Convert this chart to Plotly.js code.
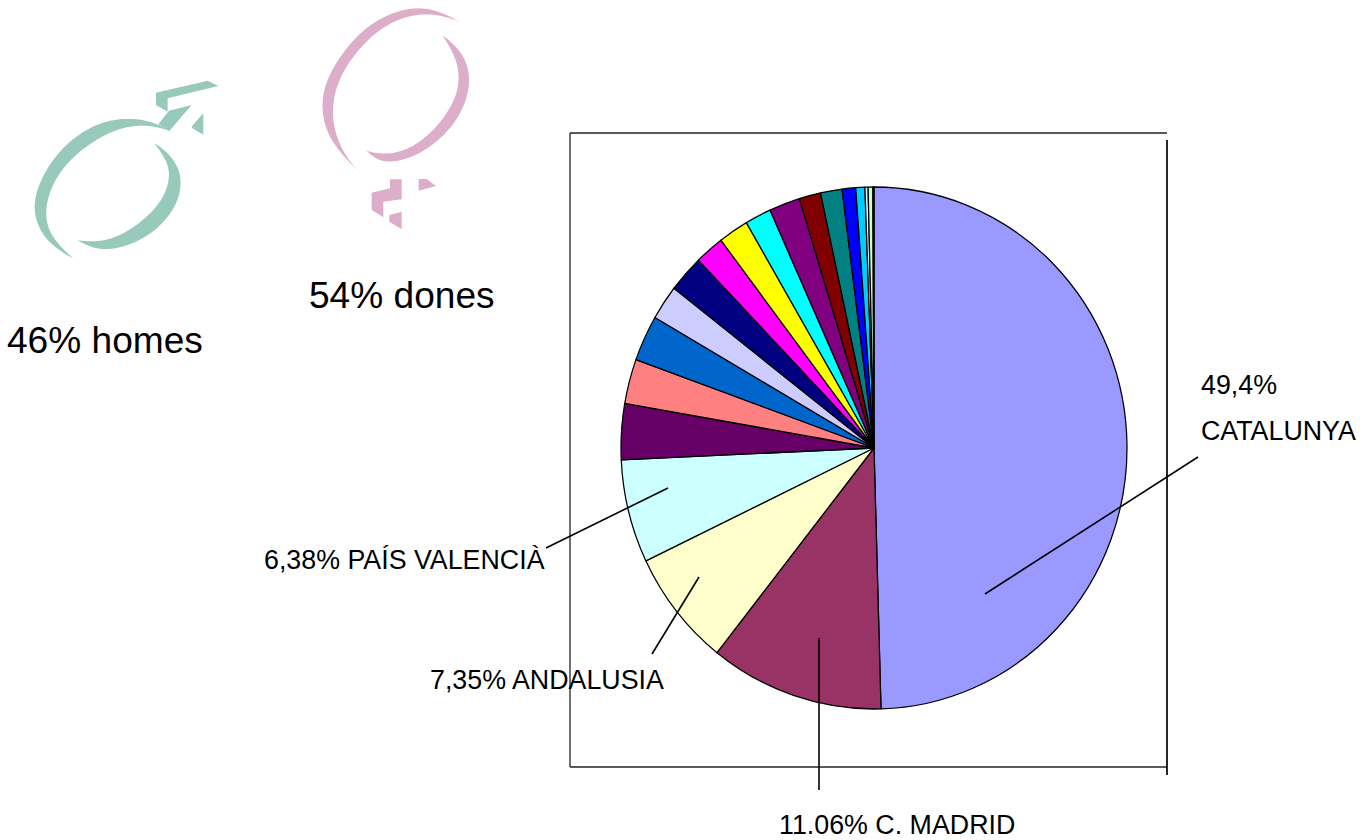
<!DOCTYPE html>
<html><head><meta charset="utf-8">
<script src="https://cdn.plot.ly/plotly-3.0.1.min.js"></script>
<style>html,body{margin:0;padding:0;background:#fff;overflow:hidden}#c{width:1367px;height:840px}</style>
</head><body><div id="c"></div>
<script>
const regions = ["CATALUNYA","C. MADRID","ANDALUSIA","PAÍS VALENCIÀ","Altres 1","Altres 2","Altres 3","Altres 4","Altres 5","Altres 6","Altres 7","Altres 8","Altres 9","Altres 10","Altres 11","Altres 12","Altres 13","Altres 14","Altres 15","Altres 16"];
const shares = [49.4,11.06,7.2,6.38,3.45,2.75,2.83,2.14,2.3,1.86,1.92,1.67,1.97,1.37,1.37,0.86,0.58,0.2,0.3,0.07];
const sliceColors = ["#9999FF","#993366","#FFFFCC","#CCFFFF","#660066","#FF8080","#0066CC","#CCCCFF","#000080","#FF00FF","#FFFF00","#00FFFF","#800080","#800000","#008080","#0000FF","#00CCFF","#CCFFFF","#CCFFCC","#FFFF99"];

const W=1367,H=840;
const fx=x=>(x/W).toFixed(5), fy=y=>(1-y/H).toFixed(5);
const line=(x0,y0,x1,y1,w,c)=>({type:'line',xref:'paper',yref:'paper',x0:x0/W,y0:1-y0/H,x1:x1/W,y1:1-y1/H,line:{color:c||'#000',width:w}});
function dense(p){const o=[];for(let i=0;i<p.length-1;i++){const a=p[Math.max(i-1,0)],b=p[i],c=p[i+1],d=p[Math.min(i+2,p.length-1)];
 for(let k=0;k<12;k++){const t=k/12,t2=t*t,t3=t2*t;o.push([0,1].map(j=>0.5*(2*b[j]+(c[j]-a[j])*t+(2*a[j]-5*b[j]+4*c[j]-d[j])*t2+(3*b[j]-a[j]-3*c[j]+d[j])*t3)));}}
 o.push(p[p.length-1]);return o;}
function relax(q,win){const n=q.length;return q.map((_,i)=>{const h=Math.min(win,i,n-1-i);let s=[0,0];for(let k=-h;k<=h;k++){s[0]+=q[i+k][0];s[1]+=q[i+k][1];}return [s[0]/(2*h+1),s[1]/(2*h+1)];});}
function polyPath(q,o,col){return {type:'path',xref:'paper',yref:'paper',path:q.map((a,i)=>(i?'L':'M')+fx((a[0]+o[0])/3)+','+fy((a[1]+o[1])/3)).join(' ')+' Z',fillcolor:col,line:{width:0}};}
function crescent(a,b,o,col){const A=relax(relax(dense(a),8),8),B=relax(relax(dense(b),8),8);return polyPath(A.concat(B.slice(1)),o,col);}
const poly=(p,o,col)=>polyPath(p,o,col);
const teal='#98CABC',pink='#DDAECA',oT=[75,210],oP=[945,0];
const symbols=[
 crescent([[433,183],[400,161],[340,146],[280,146],[220,160],[160,193],[108,238],[63,298],[33,365],[25,420],[43,482],[85,532],[145,565]],
          [[145,565],[100,525],[70,480],[60,430],[72,365],[105,305],[150,255],[210,210],[270,180],[330,165],[390,168],[433,183]],oT,teal),
 crescent([[388,220],[425,243],[457,285],[470,330],[462,392],[422,452],[371,497],[310,527],[250,540],[200,535],[158,510]],
          [[158,510],[210,517],[270,505],[330,470],[390,420],[425,365],[435,310],[425,270],[388,220]],oT,teal),
 poly([[400,163],[432,122],[500,105],[433,183]],oT,teal),
 poly([[393,68],[548,32],[580,48],[428,85],[428,125],[393,105]],oT,teal),
 poly([[535,130],[535,194],[501,174],[501,168]],oT,teal),
 crescent([[432,65],[375,33],[320,23],[260,28],[188,58],[128,103],[68,178],[30,250],[18,320],[33,392],[68,452],[135,518]],
          [[135,518],[90,470],[60,400],[50,330],[65,250],[105,180],[165,110],[230,65],[300,42],[370,42],[432,65]],oP,pink),
 crescent([[383,107],[427,140],[454,185],[467,240],[452,312],[412,382],[352,437],[285,477],[220,487],[185,480],[155,452]],
          [[155,452],[205,465],[265,455],[325,420],[380,365],[420,300],[435,240],[425,185],[410,150],[383,107]],oP,pink),
 poly([[170,578],[225,565],[225,538],[260,538],[260,598],[205,605],[205,652],[170,630]],oP,pink),
 poly([[311,537],[335,537],[363,558],[311,572]],oP,pink),
 poly([[223,645],[260,635],[260,688],[223,665]],oP,pink)
];
const frame=[line(570,133,1167,133,1.3,'#222'),line(570,133,570,767,1.3,'#222'),line(570,767,1167,767,1.3,'#222'),line(1167,140,1167,775,1.7)];
const leaders=[line(1198,457,985,594,1.6),line(668,488,546,548,1.6),line(699,577,652,654,1.6),line(819,638,819,790,1.6)];
const note=(t,x,y,s)=>({text:t,xref:'paper',yref:'paper',x:x/W,y:1-y/H,xanchor:'left',yanchor:'middle',showarrow:false,borderpad:0,font:{family:'"Liberation Sans",Arial,sans-serif',size:s,color:'#000'}});
const notes=[note('46% homes',6,340,37.1),note('54% dones',308,295,37.1),
 note('49,4%',1200,385,26.8),note('CATALUNYA',1200,431,26.8),
 note('6,38% PAÍS VALENCIÀ',263,560,26.8),note('7,35% ANDALUSIA',429,680,26.8),note('11.06% C. MADRID',778,825,26.8)];
const cx=874,cy=448,R=261,ratio=253/261;
Plotly.newPlot('c',[{type:'pie',labels:regions,values:shares,sort:false,direction:'clockwise',rotation:0,textinfo:'none',showlegend:false,
 marker:{colors:sliceColors,line:{color:'#000',width:1.3}},domain:{x:[(cx-R)/W,(cx+R)/W],y:[1-(cy+R)/H,1-(cy-R)/H]}}],
 {width:W,height:H,margin:{l:0,r:0,t:0,b:0},paper_bgcolor:'#fff',plot_bgcolor:'#fff',showlegend:false,shapes:[...symbols,...frame,...leaders],annotations:notes},
 {displayModeBar:false,staticPlot:true}).then(()=>{
  const g=document.querySelector('#c .pielayer');
  if(g) g.setAttribute('transform',`translate(${cx},0) scale(${ratio},1) translate(${-cx},0)`);
 });
</script></body></html>
